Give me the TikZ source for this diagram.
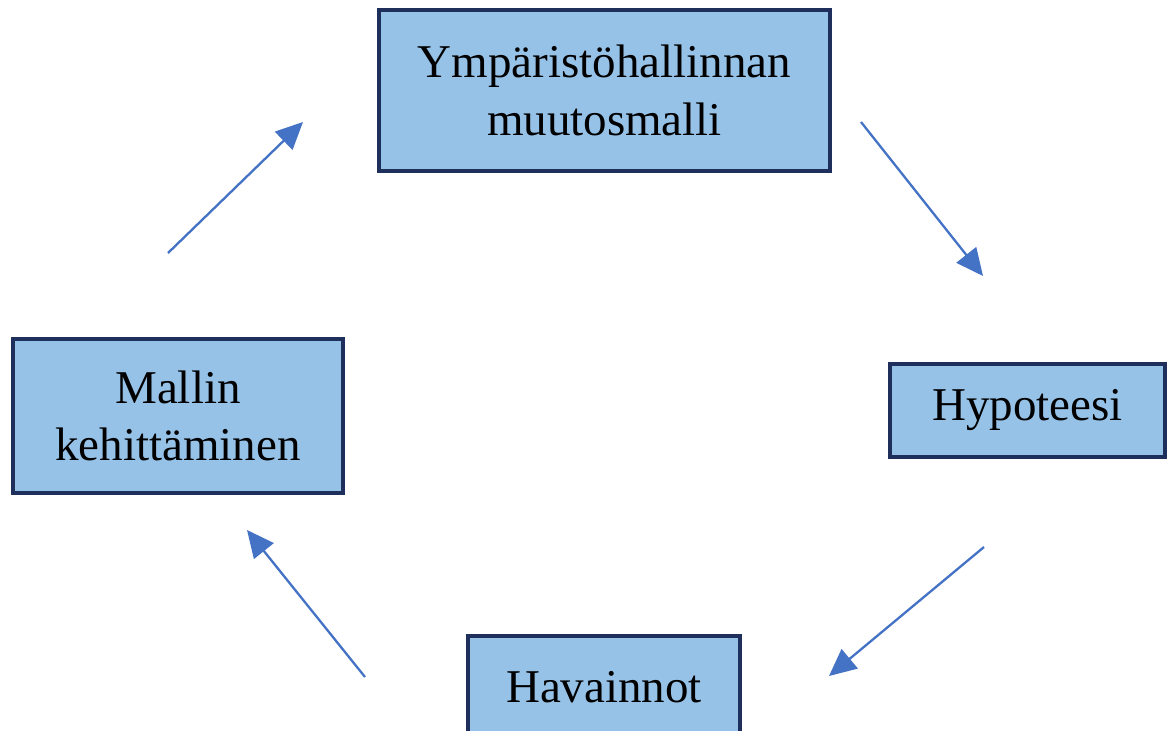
\documentclass[tikz,border=0pt]{standalone}
\usepackage{fontspec}
\setmainfont{Liberation Serif}
\usetikzlibrary{arrows.meta}
\definecolor{boxfill}{HTML}{97C2E8}
\definecolor{boxdraw}{HTML}{1F2F5C}
\definecolor{arrowblue}{HTML}{4472C4}
\tikzset{
  stagebox/.style={draw=boxdraw, fill=boxfill, line width=4pt, inner sep=0pt,
    align=center, font=\fontsize{47}{57.5}\selectfont},
  flowarrow/.style={draw=arrowblue, line width=2.3pt, -{Triangle[length=27pt,width=25pt]}}
}
\begin{document}
\begin{tikzpicture}[x=1pt,y=-1pt]
\useasboundingbox (0,0) rectangle (1168,731);
\begin{scope}
\clip (0,0) rectangle (1168,731);
\node[stagebox, minimum width=451pt, minimum height=161pt] (model) at (604.5,90.5) {Ympäristöhallinnan\\muutosmalli};
\node[stagebox, minimum width=275pt, minimum height=93pt] (hyp) at (1027.5,410.5) {Hypoteesi};
\node[stagebox, minimum width=272pt, minimum height=110pt, text depth=0pt] (obs) at (604,691) {\raisebox{8pt}{Havainnot}};
\node[stagebox, minimum width=330pt, minimum height=154pt] (dev) at (178,416) {Mallin\\kehittäminen};
\end{scope}
\coordinate (a1s) at (168,253);
\coordinate (a1e) at (303,122);
\coordinate (a2s) at (861,122);
\coordinate (a2e) at (983,276);
\coordinate (a3s) at (984,547);
\coordinate (a3e) at (829,676);
\coordinate (a4s) at (365,677);
\coordinate (a4e) at (247,530);
\draw[flowarrow] (a1s) -- (a1e);
\draw[flowarrow] (a2s) -- (a2e);
\draw[flowarrow] (a3s) -- (a3e);
\draw[flowarrow] (a4s) -- (a4e);
\end{tikzpicture}
\end{document}
